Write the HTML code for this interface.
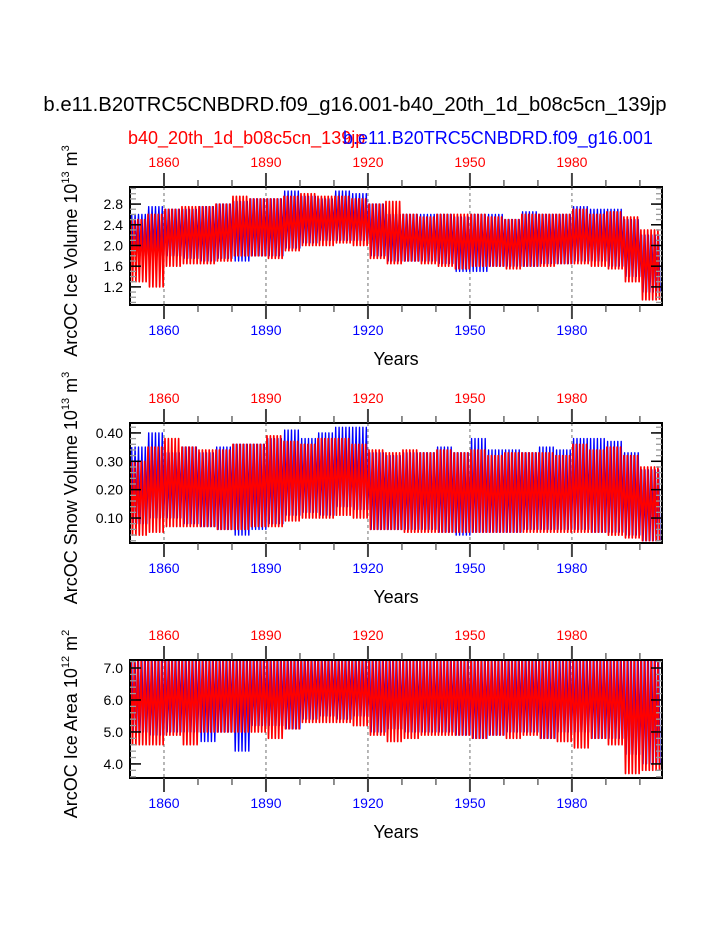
<!DOCTYPE html>
<html><head><meta charset="utf-8"><style>
body{margin:0;background:#fff}
svg{display:block;font-family:"Liberation Sans",sans-serif}
</style></head><body>
<svg id="c" width="723" height="935" xmlns="http://www.w3.org/2000/svg">
<text x="355" y="111" font-size="20.3" text-anchor="middle">b.e11.B20TRC5CNBDRD.f09_g16.001-b40_20th_1d_b08c5cn_139jp</text>
<text x="128" y="144" font-size="18" fill="#ff0000">b40_20th_1d_b08c5cn_139jp</text>
<text x="343" y="144" font-size="18" fill="#0000ff">b.e11.B20TRC5CNBDRD.f09_g16.001</text>
</svg>
<script>
// 5-year block start years
const blockYears=[1850,1855,1860,1865,1870,1875,1880,1885,1890,1895,1900,1905,1910,1915,1920,1925,1930,1935,1940,1945,1950,1955,1960,1965,1970,1975,1980,1985,1990,1995,2000];
// Panel 1: ice volume (10^13 m^3)
const volBlueMax=[2.6,2.75,2.7,2.7,2.75,2.8,2.85,2.9,2.9,3.05,2.95,2.9,3.05,3.0,2.8,2.6,2.6,2.6,2.6,2.55,2.6,2.6,2.5,2.65,2.6,2.6,2.75,2.7,2.7,2.5,2.2];
const volBlueMin=[1.8,1.8,1.8,1.75,1.7,1.75,1.7,1.8,1.8,1.95,2.05,2.1,2.1,2.1,1.8,1.7,1.7,1.7,1.65,1.5,1.5,1.6,1.6,1.6,1.65,1.65,1.7,1.7,1.6,1.4,1.1];
const volRedMax=[2.5,2.6,2.7,2.75,2.75,2.8,2.95,2.9,2.9,2.95,3.0,2.95,2.95,2.9,2.8,2.85,2.6,2.55,2.6,2.6,2.6,2.55,2.5,2.6,2.6,2.6,2.7,2.6,2.65,2.55,2.3];
const volRedMin=[1.3,1.2,1.6,1.65,1.65,1.7,1.8,1.8,1.75,1.9,2.0,2.0,2.05,2.0,1.75,1.65,1.7,1.65,1.6,1.55,1.6,1.6,1.55,1.6,1.6,1.65,1.65,1.6,1.55,1.3,0.95];
// Panel 2: snow volume (10^13 m^3)
const snowBlueMax=[0.35,0.40,0.33,0.35,0.33,0.35,0.36,0.36,0.38,0.41,0.38,0.40,0.42,0.42,0.33,0.32,0.33,0.33,0.35,0.33,0.38,0.34,0.34,0.33,0.35,0.34,0.38,0.38,0.37,0.33,0.27];
const snowBlueMin=[0.08,0.10,0.10,0.08,0.07,0.06,0.04,0.06,0.08,0.11,0.12,0.11,0.14,0.13,0.06,0.06,0.06,0.06,0.05,0.04,0.05,0.05,0.05,0.06,0.06,0.06,0.06,0.05,0.05,0.04,0.02];
const snowRedMax=[0.30,0.35,0.38,0.35,0.34,0.34,0.36,0.36,0.39,0.37,0.36,0.38,0.38,0.36,0.34,0.33,0.34,0.33,0.34,0.33,0.34,0.32,0.33,0.33,0.33,0.32,0.36,0.34,0.35,0.32,0.28];
const snowRedMin=[0.04,0.05,0.07,0.07,0.07,0.06,0.06,0.07,0.07,0.09,0.10,0.10,0.11,0.10,0.06,0.06,0.05,0.05,0.05,0.05,0.05,0.05,0.05,0.05,0.05,0.05,0.05,0.05,0.04,0.03,0.02];
// Panel 3: ice area (10^12 m^2)
const areaBlueMax=[7.25,7.25,7.25,7.25,7.25,7.25,7.25,7.25,7.25,7.25,7.25,7.25,7.25,7.25,7.25,7.25,7.25,7.25,7.25,7.25,7.25,7.25,7.25,7.25,7.25,7.25,7.25,7.25,7.25,7.25,7.25];
const areaBlueMin=[5.0,4.9,5.0,5.0,4.7,5.0,4.4,5.2,5.2,5.1,5.4,5.5,5.4,5.5,5.0,5.1,5.0,5.0,5.0,4.9,4.8,4.9,5.0,5.0,4.8,5.0,5.0,4.8,4.8,4.3,4.0];
const areaRedMax=[7.25,7.25,7.25,7.25,7.25,7.25,7.25,7.25,7.25,7.25,7.25,7.25,7.25,7.25,7.25,7.25,7.25,7.25,7.25,7.25,7.25,7.25,7.25,7.25,7.25,7.25,7.25,7.25,7.25,7.25,7.25];
const areaRedMin=[4.6,4.6,4.9,4.6,5.0,5.0,5.0,5.0,4.8,5.1,5.3,5.3,5.3,5.2,4.9,4.7,4.8,4.9,4.9,4.9,4.8,4.9,4.8,4.9,4.8,4.7,4.5,4.8,4.6,3.7,3.8];
const xLabels=[1860,1890,1920,1950,1980];
const vTicks=[1.2,1.6,2.0,2.4,2.8], sTicks=[0.10,0.20,0.30,0.40], aTicks=[4.0,5.0,6.0,7.0];

const NS="http://www.w3.org/2000/svg", svg=document.getElementById('c');
function mk(t,a,p){const e=document.createElementNS(NS,t);for(const k in a)e.setAttribute(k,a[k]);(p||svg).appendChild(e);return e;}
const X0=130,X1=662,Y0=1850,Y1=2006.5;
const xs=y=>X0+(y-Y0)/(Y1-Y0)*(X1-X0);

const panels=[
 {top:187,bot:305,lo:0.85,hi:3.13,ticks:vTicks,dec:1,minor:0.1,title:"ArcOC Ice Volume 10",exp:"13",unit:" m",uexp:"3",
  b:[volBlueMax,volBlueMin],r:[volRedMax,volRedMin],name:"ice-volume"},
 {top:423,bot:543,lo:0.012,hi:0.435,ticks:sTicks,dec:2,minor:0.02,title:"ArcOC Snow Volume 10",exp:"13",unit:" m",uexp:"3",
  b:[snowBlueMax,snowBlueMin],r:[snowRedMax,snowRedMin],name:"snow-volume"},
 {top:660,bot:778,lo:3.56,hi:7.25,ticks:aTicks,dec:1,minor:0.2,title:"ArcOC Ice Area 10",exp:"12",unit:" m",uexp:"2",
  b:[areaBlueMax,areaBlueMin],r:[areaRedMax,areaRedMin],name:"ice-area"}
];

panels.forEach(P=>{
 const g=mk('g',{});
 
 
 const ys=v=>P.bot-(v-P.lo)/(P.hi-P.lo)*(P.bot-P.top);
 const cid='clip-'+P.name;
 const cp=mk('clipPath',{id:cid},g);mk('rect',{x:X0,y:P.top,width:X1-X0,height:P.bot-P.top},cp);
 xLabels.forEach(yr=>{
  const l=mk('line',{x1:xs(yr),x2:xs(yr),y1:P.top,y2:P.bot,stroke:'#888','stroke-dasharray':'3,3','stroke-width':1.2},g);
  
  
 });
 function series(arr,col,off,w,nm){
  let d='';
  for(let y=1850;y<=2005;y++){
   const bi=Math.min(Math.floor((y-1850)/5),blockYears.length-1);
   const mx=arr[0][bi],mn=arr[1][bi];
   d+=(d?'L':'M')+xs(y+0.3+off).toFixed(1)+','+ys(mx).toFixed(1)+'L'+xs(y+0.75+off).toFixed(1)+','+ys(mn).toFixed(1);
  }
  const p=mk('path',{d:d,fill:'none',stroke:col,'stroke-width':w,'clip-path':'url(#'+cid+')','stroke-linejoin':'round'},g);
  
  
 }
 series(P.b,'#0000ff',0.2,1.4,P.name+'-blue-line');
 series(P.r,'#ff0000',0,1.7,P.name+'-red-line');
 const f=mk('rect',{x:X0,y:P.top,width:X1-X0,height:P.bot-P.top,fill:'none',stroke:'#000','stroke-width':2},g);
 
 
 for(let yr=1860;yr<=2000;yr+=10){
  const maj=(yr-1860)%30===0, len=maj?14:7, x=xs(yr);
  mk('line',{x1:x,x2:x,y1:P.top,y2:P.top-len,stroke:'#444','stroke-width':maj?2:1.2},g);
  mk('line',{x1:x,x2:x,y1:P.bot,y2:P.bot+len,stroke:'#444','stroke-width':maj?2:1.2},g);
 }
 xLabels.forEach(yr=>{
  const t1=mk('text',{x:xs(yr),y:P.top-20,'font-size':14,'text-anchor':'middle',fill:'#ff0000'},g);t1.textContent=yr;
  
  
  const t2=mk('text',{x:xs(yr),y:P.bot+30,'font-size':14,'text-anchor':'middle',fill:'#0000ff'},g);t2.textContent=yr;
  
  
 });
 for(let v=Math.ceil(P.lo/P.minor)*P.minor;v<=P.hi+1e-9;v+=P.minor){
  const y=ys(v);
  mk('line',{x1:X0,x2:X0+6,y1:y,y2:y,stroke:'#999','stroke-width':1.3},g);
  mk('line',{x1:X1,x2:X1-6,y1:y,y2:y,stroke:'#999','stroke-width':1.3},g);
 }
 P.ticks.forEach(v=>{
  const y=ys(v);
  mk('line',{x1:X0,x2:X0+11,y1:y,y2:y,stroke:'#000','stroke-width':1.5},g);
  mk('line',{x1:X1,x2:X1-11,y1:y,y2:y,stroke:'#000','stroke-width':1.5},g);
  const t=mk('text',{x:X0-7,y:y+5,'font-size':14,'text-anchor':'end'},g);t.textContent=v.toFixed(P.dec);
  
  
 });
 const xt=mk('text',{x:396,y:P.bot+60,'font-size':18,'text-anchor':'middle'},g);xt.textContent='Years';
 
 
 const cy=(P.top+P.bot)/2+5;
 const yt=mk('text',{x:0,y:0,'font-size':18,'text-anchor':'middle',transform:'translate(77,'+cy+') rotate(-90)'},g);
 
 
 yt.appendChild(document.createTextNode(P.title));
 const s1=mk('tspan',{'font-size':11,dy:-8},yt);s1.textContent=P.exp;
 const s2=mk('tspan',{dy:8},yt);s2.textContent=P.unit;
 const s3=mk('tspan',{'font-size':11,dy:-8},yt);s3.textContent=P.uexp;
});
</script>
</body></html>
